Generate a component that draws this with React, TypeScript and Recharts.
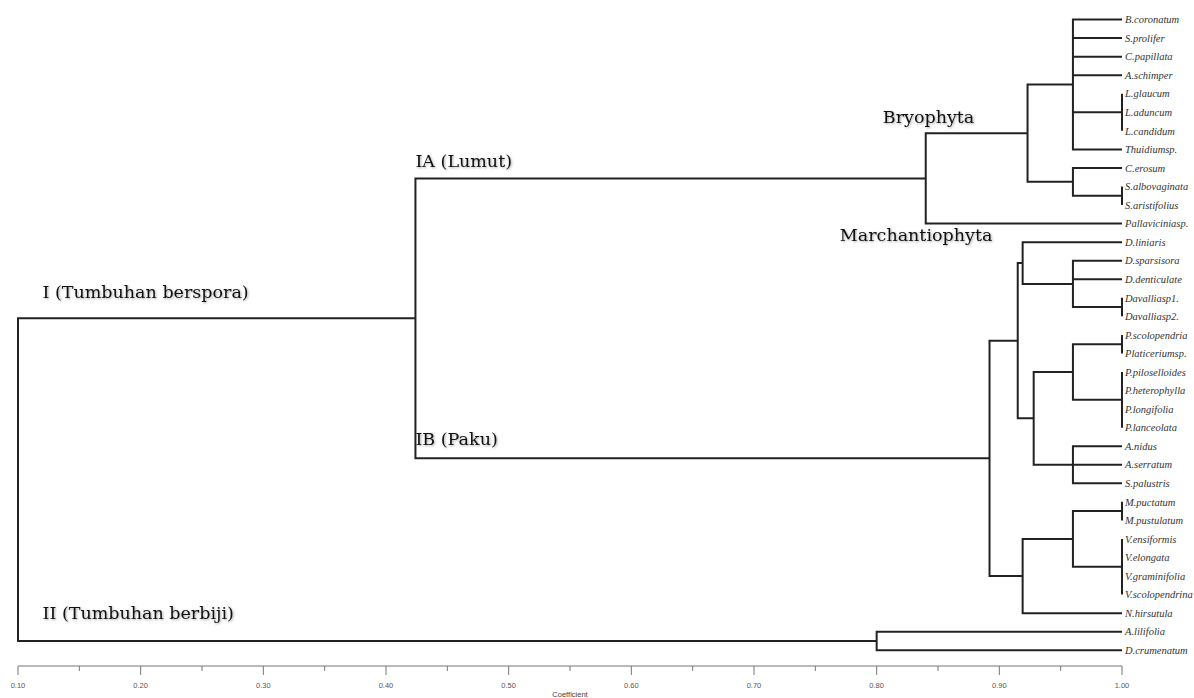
import { ScatterChart, Scatter, XAxis, YAxis, ReferenceDot } from "recharts";

// leaf order, top to bottom
const leaves = [
  "B.coronatum", "S.prolifer", "C.papillata", "A.schimper", "L.glaucum", "L.aduncum",
  "L.candidum", "Thuidiumsp.", "C.erosum", "S.albovaginata", "S.aristifolius", "Pallaviciniasp.",
  "D.liniaris", "D.sparsisora", "D.denticulate", "Davalliasp1.", "Davalliasp2.", "P.scolopendria",
  "Platiceriumsp.", "P.piloselloides", "P.heterophylla", "P.longifolia", "P.lanceolata", "A.nidus",
  "A.serratum", "S.palustris", "M.puctatum", "M.pustulatum", "V.ensiformis", "V.elongata",
  "V.graminifolia", "V.scolopendrina", "N.hirsutula", "A.lilifolia", "D.crumenatum",
];

// merges, bottom-up: coefficient where the members join
const clusters = [
  { id: "L", height: 1.0, members: ["L.glaucum", "L.aduncum", "L.candidum"] },
  { id: "S", height: 1.0, members: ["S.albovaginata", "S.aristifolius"] },
  { id: "Dav", height: 1.0, members: ["Davalliasp1.", "Davalliasp2."] },
  { id: "Pscol", height: 1.0, members: ["P.scolopendria", "Platiceriumsp."] },
  { id: "Ppilo", height: 1.0, members: ["P.piloselloides", "P.heterophylla", "P.longifolia", "P.lanceolata"] },
  { id: "M", height: 1.0, members: ["M.puctatum", "M.pustulatum"] },
  { id: "V", height: 1.0, members: ["V.ensiformis", "V.elongata", "V.graminifolia", "V.scolopendrina"] },
  { id: "mossA", height: 0.96, members: ["B.coronatum", "S.prolifer", "C.papillata", "A.schimper", "L", "Thuidiumsp."] },
  { id: "mossB", height: 0.96, members: ["C.erosum", "S"] },
  { id: "bryo", height: 0.923, members: ["mossA", "mossB"] },
  { id: "IA", height: 0.84, members: ["bryo", "Pallaviciniasp."] },
  { id: "dav2", height: 0.96, members: ["D.sparsisora", "D.denticulate", "Dav"] },
  { id: "dav1", height: 0.919, members: ["D.liniaris", "dav2"] },
  { id: "poly", height: 0.96, members: ["Pscol", "Ppilo"] },
  { id: "asp", height: 0.96, members: ["A.nidus", "A.serratum", "S.palustris"] },
  { id: "pa", height: 0.928, members: ["poly", "asp"] },
  { id: "fernA", height: 0.915, members: ["dav1", "pa"] },
  { id: "mv", height: 0.96, members: ["M", "V"] },
  { id: "fernB", height: 0.919, members: ["mv", "N.hirsutula"] },
  { id: "IB", height: 0.892, members: ["fernA", "fernB"] },
  { id: "I", height: 0.424, members: ["IA", "IB"] },
  { id: "II", height: 0.8, members: ["A.lilifolia", "D.crumenatum"] },
  { id: "root", height: 0.1, members: ["I", "II"] },
];

const xTicks = [0.1, 0.15, 0.2, 0.25, 0.3, 0.35, 0.4, 0.45, 0.5, 0.55, 0.6, 0.65, 0.7, 0.75, 0.8, 0.85, 0.9, 0.95, 1.0];

const groupLabels = [
  { text: "I (Tumbuhan berspora)", x: 0.12, y: 14.7 },
  { text: "IA (Lumut)", x: 0.424, y: 7.6 },
  { text: "IB (Paku)", x: 0.424, y: 22.6 },
  { text: "II (Tumbuhan berbiji)", x: 0.12, y: 32.0 },
  { text: "Bryophyta", x: 0.805, y: 5.25 },
  { text: "Marchantiophyta", x: 0.77, y: 11.6 },
];

const pos: Record<string, { x: number; y: number }> = {};
leaves.forEach((n, i) => (pos[n] = { x: 1.0, y: i }));
clusters.forEach((c) => {
  const ys = c.members.map((m) => pos[m].y);
  pos[c.id] = { x: c.height, y: (Math.min(...ys) + Math.max(...ys)) / 2 };
});

// one elbow path per merge
const paths = clusters.map((c) => {
  const pts: { x: number; y: number }[] = [];
  c.members.forEach((m, k) => {
    const p = pos[m];
    if (k === 0) {
      pts.push({ x: p.x, y: p.y });
      pts.push({ x: c.height, y: p.y });
    } else {
      pts.push({ x: c.height, y: p.y });
      pts.push({ x: p.x, y: p.y });
      pts.push({ x: c.height, y: p.y });
    }
  });
  return { id: c.id, pts };
});

const NoDot = () => null;

const XTick = (props: any) => {
  const { x, y, payload } = props;
  const v = payload.value as number;
  const major = Math.round(v * 100) % 10 === 0;
  return (
    <g>
      <line x1={x} y1={y} x2={x} y2={y + (major ? 9 : 5)} stroke="#777" strokeWidth={1} />
      {major && (
        <text x={x} y={y + 22} textAnchor="middle" fontSize={7.5} fill="#555" fontFamily="Liberation Sans, sans-serif">
          {v.toFixed(2)}
        </text>
      )}
    </g>
  );
};

export default function App() {
  return (
    <div style={{ width: 1194, height: 698, background: "#fff" }}>
      <style>{`body{margin:0}`}</style>
      <ScatterChart width={1194} height={698} margin={{ top: 1, right: 0, bottom: 0, left: 18 }}>
        <XAxis
          type="number"
          dataKey="x"
          domain={[0.1, 1.0]}
          ticks={xTicks}
          interval={0}
          height={32}
          tickSize={0}
          tickMargin={0}
          tickLine={false}
          axisLine={{ stroke: "#777" }}
          tick={<XTick />}
          label={{ value: "Coefficient", position: "insideBottom", offset: 1, fontSize: 7.5, fill: "#444", fontFamily: "Liberation Sans, sans-serif" }}
        />
        <YAxis
          type="number"
          dataKey="y"
          orientation="right"
          reversed
          domain={[-1, 34.85]}
          ticks={leaves.map((_, i) => i)}
          interval={0}
          width={72}
          axisLine={false}
          tickLine={false}
          tickSize={0}
          tickMargin={3}
          tickFormatter={(v: number) => leaves[v]}
          tick={{ fontSize: 10.5, fontStyle: "italic", fill: "#333", fontFamily: "Liberation Serif, serif", textAnchor: "start" }}
        />
        {paths.map((p) => (
          <Scatter
            key={p.id}
            data={p.pts}
            line={{ stroke: "#222", strokeWidth: 2 }}
            shape={<NoDot />}
            legendType="none"
            isAnimationActive={false}
          />
        ))}
        {groupLabels.map((g) => (
          <ReferenceDot
            key={g.text}
            x={g.x}
            y={g.y}
            r={0}
            fill="none"
            stroke="none"
            label={{
              value: g.text,
              position: "right",
              offset: 0,
              fontSize: 17.5,
              fill: "#111",
              fontFamily: "DejaVu Serif, serif",
              style: { filter: "drop-shadow(1px 1px 1px rgba(0,0,0,0.35))" },
            }}
          />
        ))}
      </ScatterChart>
    </div>
  );
}
